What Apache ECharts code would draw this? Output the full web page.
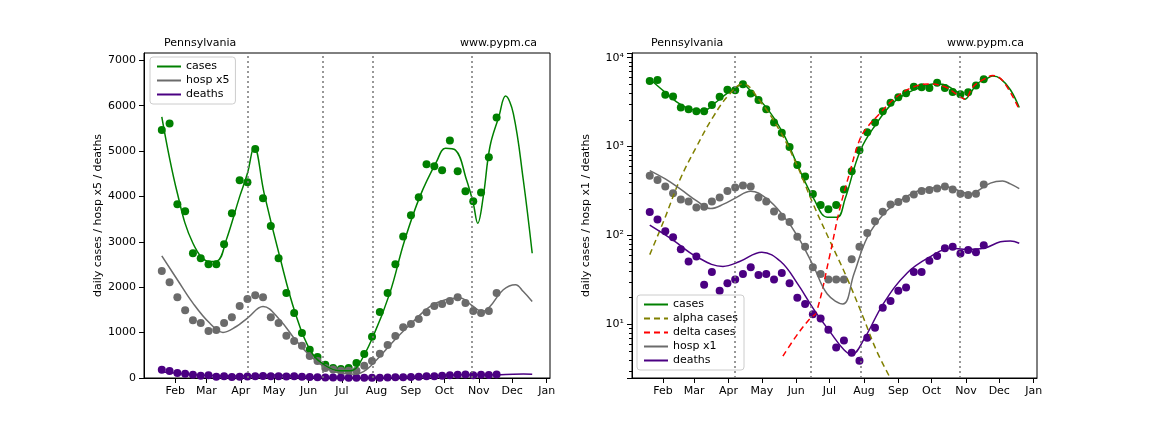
<!DOCTYPE html>
<html>
<head>
<meta charset="utf-8">
<script src="https://cdn.jsdelivr.net/npm/echarts@6/dist/echarts.min.js"></script>
<style>html,body{margin:0;background:#fff}#chart{width:1152px;height:432px}</style>
</head>
<body>
<div id="chart"></div>
<script>
// weekly observations, first week Jan 20 2021
var startDate = '2021-01-20';
var casesObs = [5462,5609,3827,3673,2749,2639,2507,2507,2947,3629,4355,4311,5044,3959,3350,2639,1870,1430,990,623,462,293,220,198,220,330,528,909,1452,1870,2507,3116,3585,3981,4707,4663,4575,5235,4553,4113,3893,4084,4861,5741];
var hospObs = [472,422,356,299,255,242,207,211,242,268,317,348,365,356,268,242,186,163,142,97,75,44,37,32,32,32,54,75,107,145,185,224,238,260,290,317,326,339,356,330,295,286,295,374];
var deathsObs = [184,152,112,96,70,51,58,28,39,24,29,32,37,44,36,37,32,38,29,20,17,13,11.7,8.7,5.5,6.6,4.8,3.9,7.1,9.2,15.4,18.4,24,26,39,39,52,59,72,75,63,69,65,78];

// model curves [date, value]
var casesModel = [['2021-01-20',5755],['2021-02-03',4069],['2021-02-17',2969],['2021-03-04',2566],['2021-03-11',2580],['2021-03-19',3043],['2021-03-31',3996],['2021-04-07',4509],['2021-04-13',5095],['2021-04-22',4069],['2021-05-06',2676],['2021-05-20',1430],['2021-06-03',587],['2021-06-17',257],['2021-06-29',161],['2021-07-08',161],['2021-07-15',257],['2021-07-29',916],['2021-08-13',1870],['2021-08-26',3006],['2021-09-09',3996],['2021-09-24',4765],['2021-10-02',5059],['2021-10-11',5020],['2021-10-21',4362],['2021-10-27',3849],['2021-10-31',3409],['2021-11-05',3996],['2021-11-11',5095],['2021-11-19',5755],['2021-11-25',6210],['2021-12-02',5829],['2021-12-11',4362],['2021-12-19',2749]];
var hospModel = [['2021-01-20',538],['2021-02-03',433],['2021-02-17',330],['2021-03-04',242],['2021-03-16',201],['2021-03-28',227],['2021-04-07',264],['2021-04-21',315],['2021-05-06',257],['2021-05-20',169],['2021-06-03',95],['2021-06-17',44],['2021-06-29',22],['2021-07-13',17],['2021-07-23',37],['2021-08-04',95],['2021-08-19',176],['2021-09-03',249],['2021-09-18',315],['2021-10-02',345],['2021-10-15',352],['2021-10-27',315],['2021-11-04',293],['2021-11-11',315],['2021-11-23',389],['2021-12-04',411],['2021-12-11',381],['2021-12-19',337]];
var deathsModel = [['2021-01-20',131],['2021-02-10',89],['2021-03-03',58],['2021-03-27',45],['2021-04-11',51],['2021-05-01',65],['2021-05-18',51],['2021-06-02',29],['2021-06-17',14.7],['2021-07-02',8.1],['2021-07-14',5.2],['2021-07-21',4.6],['2021-08-01',6.8],['2021-08-19',17.5],['2021-09-09',38],['2021-09-30',58],['2021-10-18',72],['2021-11-02',70],['2021-11-17',72],['2021-12-02',85],['2021-12-11',87],['2021-12-19',82]];
var alphaModel = [['2021-01-20',61],['2021-02-02',150],['2021-02-16',420],['2021-03-03',991],['2021-03-18',2150],['2021-04-02',3920],['2021-04-14',5070],['2021-04-29',3300],['2021-05-17',1520],['2021-06-01',645],['2021-06-16',230],['2021-07-01',89],['2021-07-16',35],['2021-07-31',12.4],['2021-08-12',5.2],['2021-08-24',2.6]];
var deltaModel = [['2021-05-20',4.4],['2021-06-01',7.4],['2021-06-14',11.9],['2021-06-19',13.5],['2021-07-01',58],['2021-07-10',194],['2021-07-19',500],['2021-07-28',1180],['2021-08-03',1590],['2021-08-15',2340],['2021-08-30',3600],['2021-09-14',4650],['2021-09-29',5070],['2021-10-14',4650],['2021-10-23',3920],['2021-10-31',3440],['2021-11-07',4650],['2021-11-16',5620],['2021-11-25',6290],['2021-12-04',5530],['2021-12-18',2780]];
var eventDates = ['2021-04-07','2021-06-14','2021-07-29','2021-10-26'];

var GREEN = '#008000', GREY = '#6b6b6b', PURPLE = '#4b0082';
var FONT = 'DejaVu Sans';

function weekly(vals, scale) {
  var t0 = new Date(startDate + 'T00:00:00Z').getTime();
  return vals.map(function (v, i) { return [t0 + i * 7 * 86400000, v * scale]; });
}
function scaled(arr, scale) {
  return arr.map(function (p) { return [p[0], p[1] * scale]; });
}
function dots(name, data, color, idx) {
  return {name: name + '_pts', type: 'scatter', data: data, symbolSize: 8, itemStyle: {color: color, opacity: 1},
    xAxisIndex: idx, yAxisIndex: idx, z: 3};
}
function curve(name, data, color, idx, dashed) {
  return {name: name, type: 'line', data: data, smooth: 0.4, symbol: 'none', xAxisIndex: idx, yAxisIndex: idx,
    lineStyle: {color: color, width: 1.5, type: dashed ? [6, 4] : 'solid'}, itemStyle: {color: color}, z: 4};
}
function vlines(idx) {
  return {type: 'line', data: [], xAxisIndex: idx, yAxisIndex: idx, silent: true,
    markLine: {symbol: 'none', silent: true, label: {show: false},
      lineStyle: {color: '#777', type: [2, 3], width: 1.5},
      data: eventDates.map(function (d) { return {xAxis: d}; })}};
}
function xAx(idx) {
  return {type: 'time', gridIndex: idx, min: '2021-01-04', max: '2022-01-04', splitNumber: 12,
    minInterval: 28 * 86400000,
    axisLine: {lineStyle: {color: '#000'}}, axisTick: {lineStyle: {color: '#000'}},
    splitLine: {show: false},
    axisLabel: {color: '#000', fontFamily: FONT, fontSize: 11, formatter: '{MMM}', hideOverlap: false}};
}
function legend(left, top, names) {
  return {left: left, top: top, orient: 'vertical', itemGap: 3, itemWidth: 24, itemHeight: 10,
    padding: [4, 6], borderColor: '#ccc', borderWidth: 1, borderRadius: 3, backgroundColor: '#fff',
    itemStyle: {opacity: 0}, textStyle: {fontSize: 11, color: '#000'}, data: names};
}
var sup = {'0':'⁰','1':'¹','2':'²','3':'³','4':'⁴'};
var tstyle = {fontSize: 11, fontWeight: 'normal', color: '#000'};

var chart = echarts.init(document.getElementById('chart'));
chart.setOption({
  animation: false,
  textStyle: {fontFamily: FONT},
  title: [
    {text: 'Pennsylvania', left: 159, top: 33, textStyle: tstyle},
    {text: 'www.pypm.ca', left: 455, top: 33, textStyle: tstyle},
    {text: 'Pennsylvania', left: 646, top: 33, textStyle: tstyle},
    {text: 'www.pypm.ca', left: 942, top: 33, textStyle: tstyle}
  ],
  grid: [
    {left: 144, top: 53, width: 406, height: 325, show: true, borderColor: '#000', borderWidth: 1},
    {left: 632, top: 53, width: 405, height: 325, show: true, borderColor: '#000', borderWidth: 1}
  ],
  legend: [
    legend(150, 57, ['cases', 'hosp x5', 'deaths']),
    legend(637, 295, ['cases', 'alpha cases', 'delta cases', 'hosp x1', 'deaths'])
  ],
  xAxis: [xAx(0), xAx(1)],
  yAxis: [
    {type: 'value', gridIndex: 0, min: 0, max: 7160, interval: 1000,
      name: 'daily cases / hosp x5 / deaths', nameLocation: 'middle', nameGap: 40,
      nameTextStyle: {fontSize: 11, color: '#000'},
      axisLine: {show: true, lineStyle: {color: '#000'}}, axisTick: {show: true, lineStyle: {color: '#000'}},
      splitLine: {show: false}, axisLabel: {color: '#000', fontSize: 11, formatter: function (v) { return String(v); }}},
    {type: 'log', gridIndex: 1, min: 2.5, max: 11300, logBase: 10,
      name: 'daily cases / hosp x1 / deaths', nameLocation: 'middle', nameGap: 40,
      nameTextStyle: {fontSize: 11, color: '#000'},
      axisLine: {show: true, lineStyle: {color: '#000'}}, axisTick: {show: true, lineStyle: {color: '#000'}},
      minorTick: {show: true, splitNumber: 9, lineStyle: {color: '#000'}},
      splitLine: {show: false},
      axisLabel: {color: '#000', fontSize: 11, formatter: function (v) {
        var e = Math.round(Math.log10(v));
        if (Math.abs(Math.log10(v) - e) > 1e-6) return '';
        return '10' + String(e).split('').map(function (c) { return sup[c]; }).join('');
      }}}
  ],
  series: [
    vlines(0),
    dots('cases', weekly(casesObs, 1), GREEN, 0),
    dots('hosp', weekly(hospObs, 5), GREY, 0),
    dots('deaths', weekly(deathsObs, 1), PURPLE, 0),
    curve('cases', casesModel, GREEN, 0),
    curve('hosp x5', scaled(hospModel, 5), GREY, 0),
    curve('deaths', deathsModel, PURPLE, 0),
    vlines(1),
    dots('cases', weekly(casesObs, 1), GREEN, 1),
    dots('hosp', weekly(hospObs, 1), GREY, 1),
    dots('deaths', weekly(deathsObs, 1), PURPLE, 1),
    curve('cases', casesModel, GREEN, 1),
    curve('alpha cases', alphaModel, '#808000', 1, true),
    curve('delta cases', deltaModel, '#ff0000', 1, true),
    curve('hosp x1', hospModel, GREY, 1),
    curve('deaths', deathsModel, PURPLE, 1)
  ]
});
</script>
</body>
</html>
